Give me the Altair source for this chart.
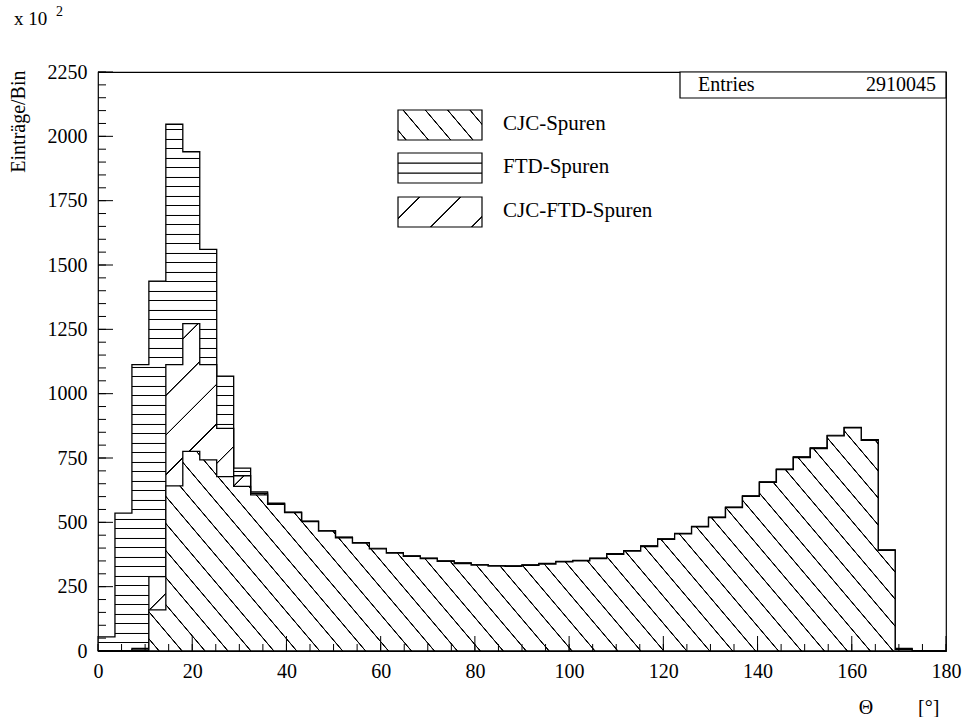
import math
import altair as alt
import pandas as pd

# ---------------- data ----------------
BIN_WIDTH = 3.6          # degrees per bin, 50 bins over 0..180
N_BINS = 50
ENTRIES = 2910045

# upper edge of each stacked contribution (cumulative), units of 10^2 entries/bin
ftd_top = [55, 536, 1113, 1437, 2047, 1940, 1561, 1068, 711, 618,
           575, 540, 505, 468, 442, 421, 399, 382, 370, 361,
           350, 342, 336, 332, 331, 335, 340, 348, 352, 361,
           378, 390, 408, 436, 457, 484, 520, 559, 603, 657,
           707, 754, 789, 838, 869, 821, 393, 10, 0, 0]
cjcftd_top = [0, 0, 10, 289, 1113, 1272, 1113, 865, 681, 613,
              573, 539, 504, 467, 441, 420, 398, 381, 369, 360,
              349, 341, 335, 331, 330, 334, 339, 347, 351, 360,
              377, 389, 407, 435, 456, 483, 519, 558, 602, 656,
              706, 753, 788, 837, 868, 820, 392, 8, 0, 0]
cjc_top = [0, 0, 4, 160, 642, 776, 743, 678, 640, 607,
           570, 538, 503, 466, 440, 419, 397, 380, 368, 359,
           348, 340, 334, 330, 329, 333, 338, 346, 350, 359,
           376, 388, 406, 434, 455, 482, 518, 557, 601, 655,
           705, 752, 787, 836, 867, 819, 391, 6, 0, 0]

LEGEND_LABELS = ["CJC-Spuren", "FTD-Spuren", "CJC-FTD-Spuren"]
X_LABEL_VALUES = [0, 20, 40, 60, 80, 100, 120, 140, 160, 180]
X_MINOR_VALUES = list(range(0, 181, 5))
Y_LABEL_VALUES = [0, 250, 500, 750, 1000, 1250, 1500, 1750, 2000, 2250]
Y_MINOR_VALUES = list(range(0, 2251, 50))

edges = [round(i * BIN_WIDTH, 1) for i in range(N_BINS)] + [180.0]
df = pd.DataFrame({
    "theta": edges,
    "ftd": ftd_top + [0],
    "mid": cjcftd_top + [0],
    "cjc": cjc_top + [0],
})

# ---------------- layout ----------------
W, H = 848, 579
PAD_L, PAD_T = 98, 72
XMAX, YMAX = 180, 2250
FONT = "Liberation Serif"
px_y = H / YMAX


def hatch(w, h, direction, spacing, lw=1.5, ramp=0.4, phase=None):
    """Linear gradient (bbox units) that draws parallel black lines."""
    dx, dy = direction
    n = math.hypot(dx, dy)
    nx, ny = -dy / n, dx / n
    L = abs(nx) * w + abs(ny) * h
    k = L / (nx * nx * w * w + ny * ny * h * h)
    x1 = 0.0 if nx >= 0 else 1.0
    y1 = 0.0 if ny >= 0 else 1.0
    x2 = x1 + k * nx * w
    y2 = y1 + k * ny * h
    stops = [alt.GradientStop(color="white", offset=0)]
    s = spacing / 2 if phase is None else phase
    while s + lw < L:
        for off, col in ((s, "white"), (s + ramp, "black"),
                         (s + lw - ramp, "black"), (s + lw, "white")):
            stops.append(alt.GradientStop(color=col, offset=round(off / L, 6)))
        s += spacing
    stops.append(alt.GradientStop(color="white", offset=1))
    return alt.LinearGradient(gradient="linear", stops=stops,
                              x1=round(x1, 6), y1=round(y1, 6),
                              x2=round(x2, 6), y2=round(y2, 6))


BACK = (1, 1.18)     # "\" lines
SLASH = (1, -1)      # "/" lines
HORIZ = (1, 0)       # "-" lines
SP_BACK, SP_SLASH, SP_HORIZ = 17.5, 28.0, 9.5

g_ftd = hatch(W, max(ftd_top) * px_y, HORIZ, SP_HORIZ)
g_mid = hatch(W, max(cjcftd_top) * px_y, SLASH, SP_SLASH)
g_cjc = hatch(W, max(cjc_top) * px_y, BACK, SP_BACK)

xscale = alt.Scale(domain=[0, XMAX], nice=False, zero=False)
yscale = alt.Scale(domain=[0, YMAX], nice=False)

x_axis = alt.Axis(values=X_LABEL_VALUES, ticks=False, tickSize=0, domain=False, grid=False,
                  labelFont=FONT, labelFontSize=20, labelPadding=10, labelColor="black",
                  labelOverlap=False, labelFlush=False, format="d", title=None)
y_axis = alt.Axis(values=Y_LABEL_VALUES, ticks=False, tickSize=0, domain=False, grid=False,
                  labelFont=FONT, labelFontSize=20, labelPadding=11, labelColor="black",
                  labelOverlap=False, labelFlush=False, format="d",
                  title="Einträge/Bin", titleFont=FONT, titleFontSize=20,
                  titleFontWeight="normal", titleColor="black",
                  titleAngle=270, titleX=-80, titleY=-2, titleAlign="right",
                  titleBaseline="middle")

X_ENC = dict(scale=xscale, axis=x_axis)
Y_ENC = dict(scale=yscale, axis=y_axis, stack=None)

base = alt.Chart(df)
area_kw = dict(interpolate="step-after", stroke="black", strokeWidth=1.3,
               opacity=1, clip=True)

a_ftd = base.mark_area(fill=g_ftd, **area_kw).encode(
    x=alt.X("theta:Q", **X_ENC), y=alt.Y("ftd:Q", **Y_ENC))
a_mid = base.mark_area(fill=g_mid, **area_kw).encode(
    x=alt.X("theta:Q", **X_ENC), y=alt.Y("mid:Q", **Y_ENC))
a_cjc = base.mark_area(fill=g_cjc, **area_kw).encode(
    x=alt.X("theta:Q", **X_ENC), y=alt.Y("cjc:Q", **Y_ENC))


# tick marks drawn inside the frame, placed by the scales
def x_ticks(values, length):
    return alt.Chart(pd.DataFrame({"theta": values})).mark_rule(color="black", strokeWidth=1).encode(
        x=alt.X("theta:Q", **X_ENC),
        y=alt.value(H), y2=alt.value(H - length))


def y_ticks(values, length):
    return alt.Chart(pd.DataFrame({"ftd": values})).mark_rule(color="black", strokeWidth=1).encode(
        y=alt.Y("ftd:Q", **Y_ENC),
        x=alt.value(0), x2=alt.value(length))


tick_layers = [x_ticks(X_MINOR_VALUES, 7), x_ticks(X_LABEL_VALUES, 15),
               y_ticks(Y_MINOR_VALUES, 8), y_ticks(Y_LABEL_VALUES, 15)]

one = pd.DataFrame({"k": [0]})

# legend
LX0, LX1 = 300, 384
BOX_H = 30
box_tops = [38, 81, 125]
legend_grads = [hatch(LX1 - LX0, BOX_H, BACK, 17.0),
                hatch(LX1 - LX0, BOX_H, HORIZ, 10.0, phase=9.3),
                hatch(LX1 - LX0, BOX_H, SLASH, 29.0)]
legend_layers = []
for top, grad, label in zip(box_tops, legend_grads, LEGEND_LABELS):
    legend_layers.append(
        alt.Chart(one).mark_rect(fill=grad, stroke="black", strokeWidth=1.2).encode(
            x=alt.value(LX0), x2=alt.value(LX1),
            y=alt.value(top), y2=alt.value(top + BOX_H)))
    legend_layers.append(
        alt.Chart(one).mark_text(text=label, font=FONT, fontSize=21, color="black",
                                 align="left", baseline="alphabetic").encode(
            x=alt.value(LX1 + 21), y=alt.value(top + 20)))

# statistics box
stat_layers = [
    alt.Chart(one).mark_rect(fill="white", stroke="black", strokeWidth=1.2).encode(
        x=alt.value(582), x2=alt.value(W), y=alt.value(0), y2=alt.value(26)),
    alt.Chart(one).mark_text(text="Entries", font=FONT, fontSize=20, color="black",
                             align="left", baseline="alphabetic").encode(
        x=alt.value(600), y=alt.value(19)),
    alt.Chart(one).mark_text(text=str(ENTRIES), font=FONT, fontSize=20, color="black",
                             align="right", baseline="alphabetic").encode(
        x=alt.value(W - 10), y=alt.value(19)),
]

# exponent label and x title
extra_layers = [
    alt.Chart(one).mark_text(text="x 10", font=FONT, fontSize=19, color="black",
                             align="left", baseline="alphabetic").encode(
        x=alt.value(-84), y=alt.value(-47)),
    alt.Chart(one).mark_text(text="2", font=FONT, fontSize=14, color="black",
                             align="left", baseline="alphabetic").encode(
        x=alt.value(-42), y=alt.value(-56)),
    alt.Chart(one).mark_text(text="Θ", font=FONT, fontSize=20, color="black",
                             align="center", baseline="middle").encode(
        x=alt.value(768), y=alt.value(636)),
    alt.Chart(one).mark_text(text="[°]", font=FONT, fontSize=20, color="black",
                             align="left", baseline="middle").encode(
        x=alt.value(820), y=alt.value(636)),
]

chart = alt.layer(a_ftd, a_mid, a_cjc, *tick_layers, *legend_layers,
                  *stat_layers, *extra_layers).properties(
    width=W, height=H,
    padding={"left": PAD_L, "top": PAD_T, "right": 968 - PAD_L - W, "bottom": 717 - PAD_T - H},
    autosize=alt.AutoSizeParams(type="none"),
    background="white",
).configure_view(stroke="black", strokeWidth=1.2)

chart.save("out.html", embed_options={"renderer": "svg", "actions": False})
